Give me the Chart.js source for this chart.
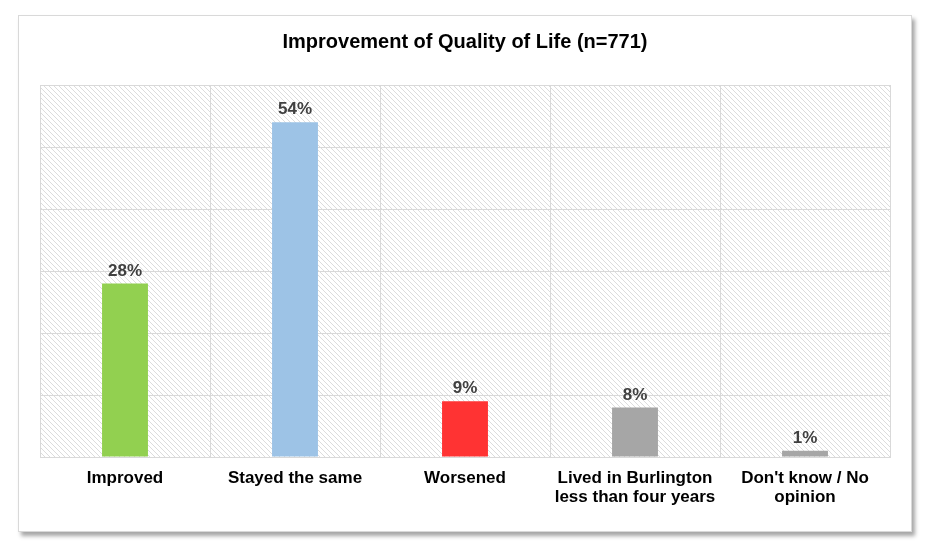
<!DOCTYPE html>
<html>
<head>
<meta charset="utf-8">
<script src="https://cdn.jsdelivr.net/npm/chart.js@4"></script>
<style>
  html, body { margin: 0; padding: 0; background: #fff; }
  #frame {
    position: absolute; left: 18px; top: 15px;
    width: 894px; height: 517px; box-sizing: border-box;
    border: 1px solid #d9d9d9; background: #fff;
    box-shadow: 3px 4px 4px rgba(0,0,0,0.35);
  }
  #chart { display: block; }
</style>
</head>
<body>
<div id="frame"><canvas id="chart" width="892" height="515"></canvas></div>
<script>
// data
var categories = ["Improved", "Stayed the same", "Worsened",
  ["Lived in Burlington", "less than four years"], ["Don't know / No", "opinion"]];
var values = [28, 54, 9, 8, 1];
var barColors = ["#92d050", "#9dc3e6", "#ff3333", "#a6a6a6", "#a6a6a6"];

// diagonal hatch for the plot background
function makeHatch() {
  var c = document.createElement("canvas");
  c.width = 5; c.height = 5;
  var g = c.getContext("2d");
  g.fillStyle = "#ffffff";
  g.fillRect(0, 0, 5, 5);
  g.strokeStyle = "#dcdcdc";
  g.lineWidth = 1;
  g.beginPath();
  g.moveTo(-1, -1); g.lineTo(6, 6);
  g.moveTo(-1, 4); g.lineTo(1, 6);
  g.moveTo(4, -1); g.lineTo(6, 1);
  g.stroke();
  return g.createPattern(c, "repeat");
}

var hatchBg = {
  id: "hatchBg",
  beforeDraw: function (chart) {
    var a = chart.chartArea, ctx = chart.ctx;
    ctx.save();
    ctx.fillStyle = makeHatch();
    ctx.fillRect(a.left, a.top, a.right - a.left, a.bottom - a.top);
    ctx.restore();
  }
};

var valueLabels = {
  id: "valueLabels",
  afterDatasetsDraw: function (chart) {
    var ctx = chart.ctx;
    var meta = chart.getDatasetMeta(0);
    ctx.save();
    ctx.font = "bold 17px 'Liberation Sans', Arial, sans-serif";
    ctx.fillStyle = "#404040";
    ctx.textAlign = "center";
    ctx.textBaseline = "bottom";
    meta.data.forEach(function (bar, i) {
      ctx.fillText(values[i] + "%", bar.x, bar.y - 4);
    });
    ctx.restore();
  }
};

var ctx = document.getElementById("chart").getContext("2d");
var config = {
  type: "bar",
  data: {
    labels: categories,
    datasets: [{
      data: values,
      backgroundColor: barColors,
      barPercentage: 0.27,
      categoryPercentage: 1
    }]
  },
  options: {
    responsive: false,
    animation: false,
    layout: { padding: { left: 21, right: 21, top: 0, bottom: 0 } },
    plugins: {
      legend: { display: false },
      tooltip: { enabled: false },
      title: {
        display: true,
        text: "Improvement of Quality of Life (n=771)",
        color: "#000",
        font: { family: "'Liberation Sans', Arial, sans-serif", size: 20, weight: "bold", lineHeight: 1.2 },
        padding: { top: 14, bottom: 31 }
      }
    },
    scales: {
      x: {
        grid: { color: "#d9d9d9", drawTicks: false },
        border: { color: "#d9d9d9" },
        ticks: {
          color: "#000",
          padding: 12,
          maxRotation: 0,
          font: { family: "'Liberation Sans', Arial, sans-serif", size: 17, weight: "bold", lineHeight: 1.12 }
        },
        afterFit: function (s) { s.height = 74; }
      },
      y: {
        min: 0,
        max: 60,
        ticks: { stepSize: 10, display: false },
        grid: { color: "#d9d9d9", drawTicks: false },
        border: { display: false },
        afterFit: function (s) { s.width = 0; }
      }
    }
  },
  plugins: [hatchBg, valueLabels]
};

var chart = new Chart(ctx, config);
</script>
</body>
</html>
